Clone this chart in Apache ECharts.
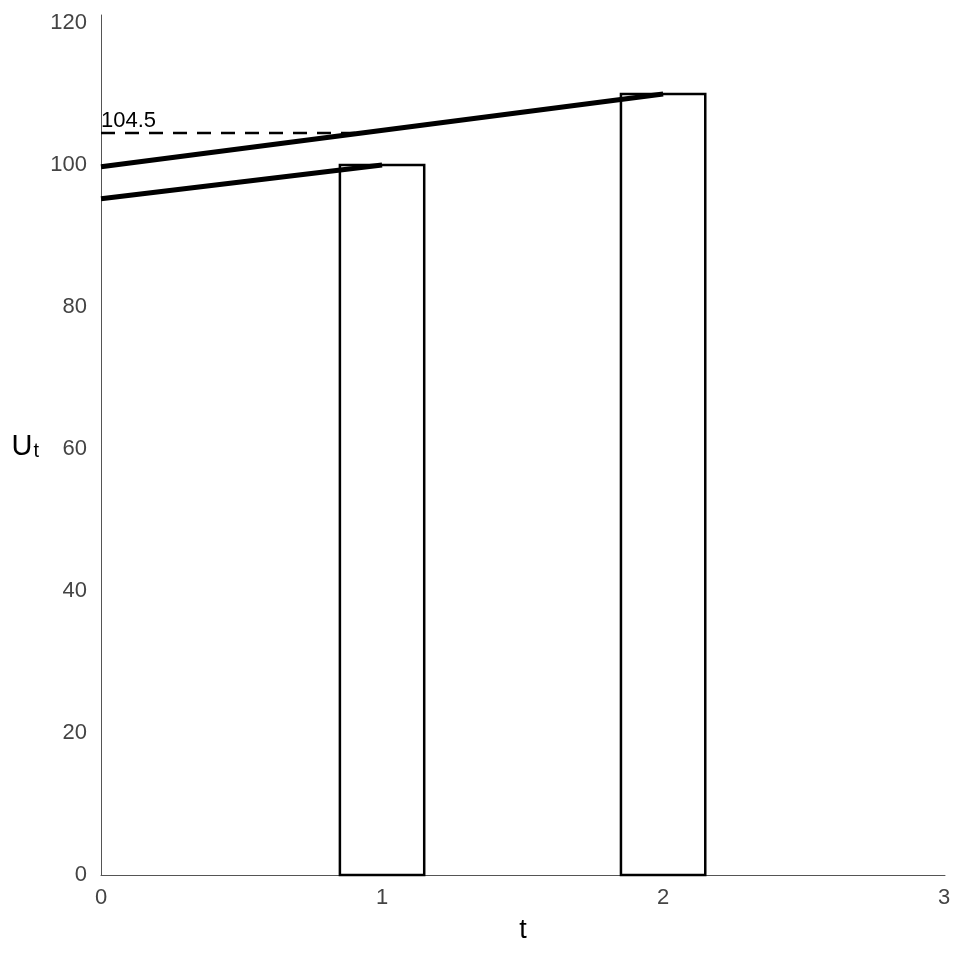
<!DOCTYPE html>
<html><head><meta charset="utf-8">
<script src="https://cdn.jsdelivr.net/npm/echarts@6/dist/echarts.min.js"></script>
<style>html,body{margin:0;padding:0;background:#fff}#c{width:960px;height:960px}</style>
</head><body><div id="c"></div>
<script>
// Data
var barTimes = [1, 2];
var barValues = [100, 110];
var barHalfWidth = 0.15;
var line1 = [[0, 95.24], [1, 100]];
var line2 = [[0, 99.77], [2, 110]];
var dashedLine = [[0, 104.5], [0.925, 104.5]];
var dashedLabel = '104.5';
var xTicks = [0, 1, 2, 3];
var yTicks = [0, 20, 40, 60, 80, 100, 120];

var chart = echarts.init(document.getElementById('c'));
var barData = barTimes.map(function (t, i) { return [t, barValues[i]]; });
var FF = 'Liberation Sans, Arial, sans-serif';

chart.setOption({
  animation: false,
  backgroundColor: '#fff',
  grid: { left: 101, right: 15, top: 15, bottom: 85 },
  xAxis: {
    type: 'value', min: 0, max: 3.003, interval: 1,
    name: 't', nameLocation: 'middle', nameGap: 42,
    nameTextStyle: { fontSize: 27, color: '#000', fontFamily: FF },
    axisLine: { show: true, lineStyle: { color: '#555', width: 1 } },
    axisTick: { show: false },
    splitLine: { show: false },
    axisLabel: { fontSize: 22, color: '#444', margin: 12, fontFamily: FF,
      showMaxLabel: true,
      formatter: function (v) { return xTicks.indexOf(Math.round(v * 1000) / 1000) >= 0 ? String(v) : ''; } }
  },
  yAxis: {
    type: 'value', min: 0, max: 121.13, interval: 20,
    name: '{u|U}{s|t}', nameLocation: 'middle', nameGap: 62, nameRotate: 0,
    nameTextStyle: { rich: {
      u: { fontSize: 29, color: '#000', fontFamily: FF, verticalAlign: 'bottom' },
      s: { fontSize: 20, color: '#000', fontFamily: FF, padding: [12, 0, 0, 1], verticalAlign: 'bottom' }
    } },
    axisLine: { show: true, lineStyle: { color: '#555', width: 1 } },
    axisTick: { show: false },
    splitLine: { show: false },
    axisLabel: { fontSize: 22, color: '#444', margin: 14, fontFamily: FF,
      showMaxLabel: false,
      formatter: function (v) { return yTicks.indexOf(v) >= 0 ? String(v) : ''; } }
  },
  series: [
    {
      type: 'custom', data: barData, z: 2,
      renderItem: function (params, api) {
        var t = api.value(0), v = api.value(1);
        var p0 = api.coord([t - barHalfWidth, v]);
        var p1 = api.coord([t + barHalfWidth, 0]);
        return { type: 'rect', shape: { x: p0[0], y: p0[1], width: p1[0] - p0[0], height: p1[1] - p0[1] },
          style: { fill: 'none', stroke: '#000', lineWidth: 2.5 } };
      }
    },
    { type: 'line', data: dashedLine, symbol: 'none', z: 3,
      lineStyle: { color: '#000', width: 2.5, type: [14, 10] } },
    { type: 'line', data: line1, symbol: 'none', z: 4, lineStyle: { color: '#000', width: 5 } },
    { type: 'line', data: line2, symbol: 'none', z: 4, lineStyle: { color: '#000', width: 5 } },
    {
      type: 'custom', data: [dashedLine[0]], z: 5,
      renderItem: function (params, api) {
        var p = api.coord([api.value(0), api.value(1)]);
        return { type: 'text', x: p[0], y: p[1] - 1,
          style: { text: dashedLabel, fill: '#000', fontSize: 22, fontFamily: FF, textAlign: 'left', textVerticalAlign: 'bottom' } };
      }
    }
  ]
});
</script></body></html>
